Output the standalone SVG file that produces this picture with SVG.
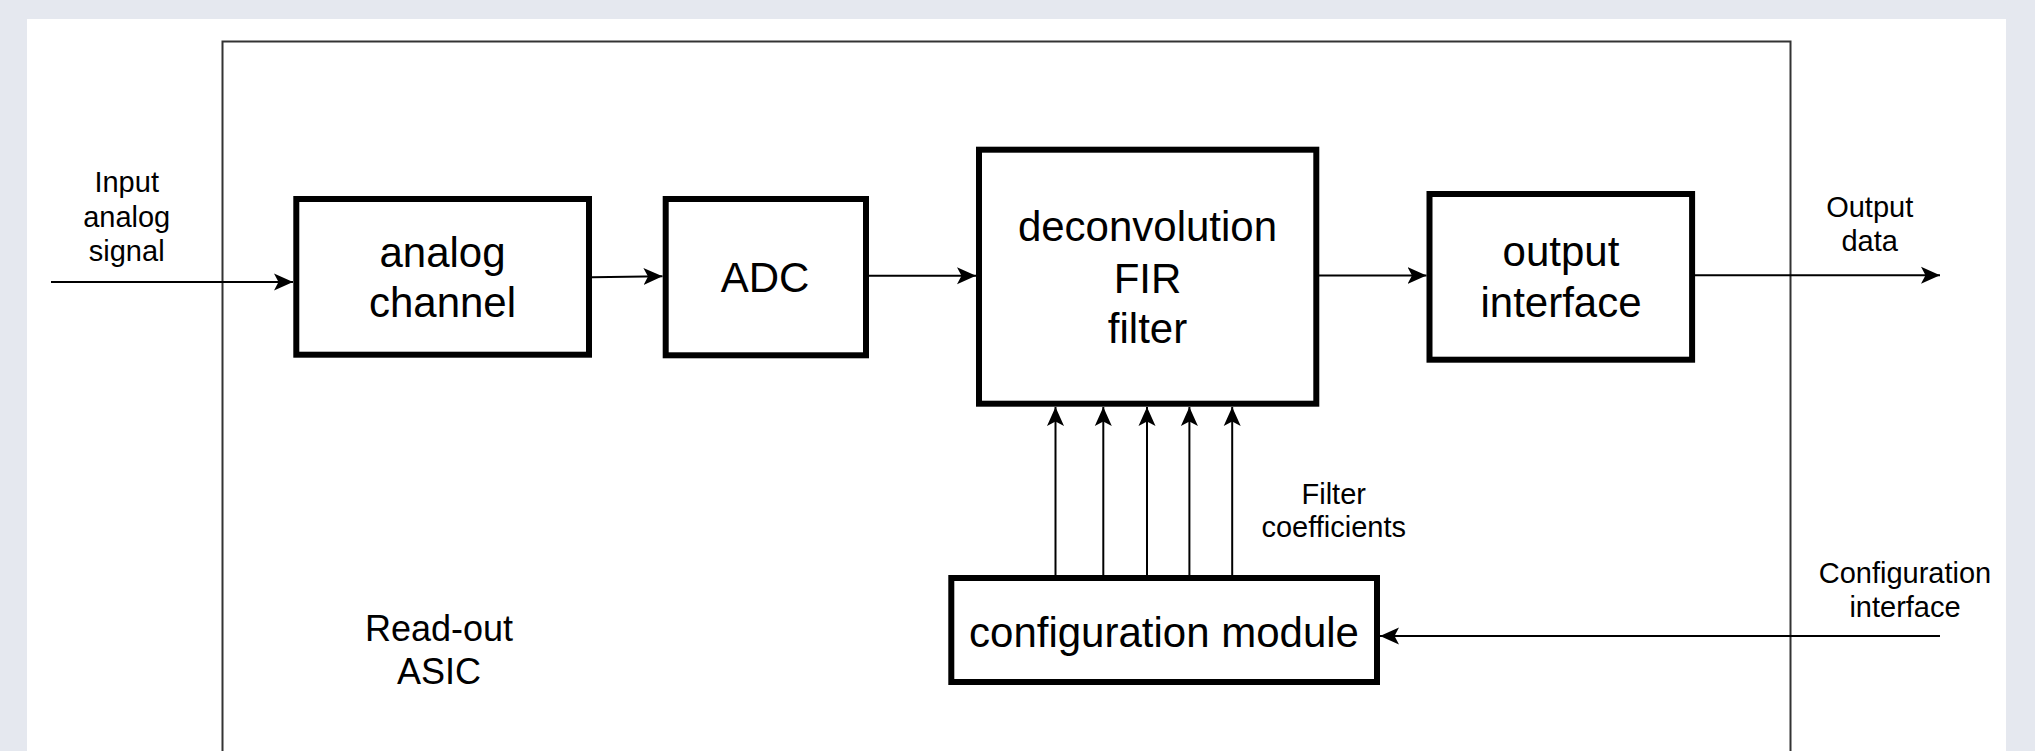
<svg xmlns="http://www.w3.org/2000/svg" width="2035" height="751" viewBox="0 0 2035 751">
<style>
.box{fill:#fff;stroke:#000;stroke-width:6}
.big{font-family:"Liberation Sans",Arial,sans-serif;font-size:42px;fill:#000;text-anchor:middle}
.small{font-family:"Liberation Sans",Arial,sans-serif;font-size:29px;fill:#000;text-anchor:middle}
.asic{font-family:"Liberation Sans",Arial,sans-serif;font-size:36px;fill:#000;text-anchor:middle}
.conn{fill:none;stroke:#000;stroke-width:2;marker-end:url(#arr)}
</style>
<defs>
<marker id="arr" markerUnits="userSpaceOnUse" markerWidth="22" markerHeight="20" refX="19" refY="9" orient="auto" viewBox="0 0 22 20">
<path d="M19,9 L0,0.5 L4.5,9 L0,17.5 Z" fill="#000"/>
</marker>
</defs>
<rect x="0" y="0" width="2035" height="751" fill="#e5e8ef"/>
<rect x="27" y="19" width="1979" height="740" fill="#fff"/>
<g id="asic">
<rect x="222.5" y="41.5" width="1568" height="730" fill="none" stroke="#333" stroke-width="2"/>
<text class="asic" x="439" y="640.5">Read-out</text>
<text class="asic" x="439" y="683.5">ASIC</text>
</g>
<g id="connectors">
<path class="conn" d="M51,282 L293,282"/>
<path class="conn" d="M592,277.3 L662.5,276.3"/>
<path class="conn" d="M869,275.7 L976,275.7"/>
<path class="conn" d="M1319,275.5 L1426.5,275.5"/>
<path class="conn" d="M1695,275.3 L1940,275.3"/>
<path class="conn" d="M1940,636 L1380,636"/>
<path class="conn" d="M1055.5,575 L1055.5,407"/>
<path class="conn" d="M1103.3,575 L1103.3,407"/>
<path class="conn" d="M1147,575 L1147,407"/>
<path class="conn" d="M1189.4,575 L1189.4,407"/>
<path class="conn" d="M1232.2,575 L1232.2,407"/>
</g>
<g id="input-label">
<text class="small" x="126.7" y="192.3">Input</text>
<text class="small" x="126.7" y="226.8">analog</text>
<text class="small" x="126.7" y="261">signal</text>
</g>
<g id="analog-channel">
<rect class="box" x="296.3" y="199" width="292.7" height="155.7"/>
<text class="big" x="442.5" y="266.7">analog</text>
<text class="big" x="442.5" y="316.7">channel</text>
</g>
<g id="adc">
<rect class="box" x="665.7" y="199" width="200.3" height="156.3"/>
<text class="big" x="765" y="291.7">ADC</text>
</g>
<g id="fir">
<rect class="box" x="979" y="149.7" width="337.3" height="254"/>
<text class="big" x="1147.5" y="241">deconvolution</text>
<text class="big" x="1147.5" y="293">FIR</text>
<text class="big" x="1147.5" y="343">filter</text>
</g>
<g id="output-interface">
<rect class="box" x="1429.5" y="194" width="262.6" height="165.7"/>
<text class="big" x="1561" y="265.7">output</text>
<text class="big" x="1561" y="316.7">interface</text>
</g>
<g id="output-label">
<text class="small" x="1869.7" y="217.3">Output</text>
<text class="small" x="1869.7" y="250.7">data</text>
</g>
<g id="filter-label">
<text class="small" x="1333.7" y="504">Filter</text>
<text class="small" x="1333.7" y="537">coefficients</text>
</g>
<g id="config-module">
<rect class="box" x="951.3" y="578" width="425.7" height="104"/>
<text class="big" x="1164" y="646.7">configuration module</text>
</g>
<g id="config-label">
<text class="small" x="1905" y="583.3">Configuration</text>
<text class="small" x="1905" y="616.7">interface</text>
</g>
</svg>
